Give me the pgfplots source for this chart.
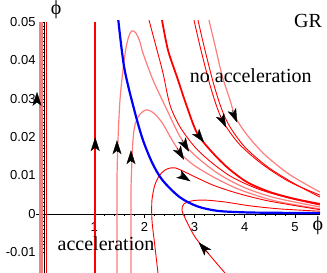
\documentclass[border=0pt]{standalone}
\usepackage{fontspec}
\setmainfont{Liberation Serif}
\newfontfamily\sansf{Liberation Sans}
\usepackage{pgfplots}
\pgfplotsset{compat=1.18}
\usetikzlibrary{arrows.meta}
\definecolor{pinkc}{RGB}{255,125,125}
\definecolor{bandc}{RGB}{242,128,128}
\tikzset{arr/.style={black, line width=0.4pt, -{Stealth[length=14pt,width=9pt,inset=3.5pt]}}}
\begin{document}
\begin{tikzpicture}
\begin{axis}[
  scale only axis, width=284pt, height=251pt,
  xmin=-0.16, xmax=5.5, ymin=-0.0154, ymax=0.05,
  axis x line=middle, axis y line=middle,
  axis line style={black, line width=0.5pt, -},
  clip=false,
  scaled y ticks=false, scaled x ticks=false,
  xtick={1,2,3,4,5}, xticklabels={1,2,3,4,5},
  ytick={-0.01,0,0.01,0.02,0.03,0.04,0.05},
  yticklabels={-0.01,0,0.01,0.02,0.03,0.04,0.05},
  minor x tick num=4, minor y tick num=9,
  hide obscured x ticks=false, hide obscured y ticks=false,
  tick align=outside,
  major tick length=4pt, minor tick length=2.5pt,
  tick style={black, line width=0.5pt},
  /pgf/number format/assume math mode=true,
  xticklabel style={font=\sansf\fontsize{13}{13}\selectfont, yshift=-1pt},
  yticklabel style={font=\sansf\fontsize{13}{13}\selectfont, xshift=-1pt},
]
% left band and vertical lines
\addplot[bandc, line width=4pt] coordinates {(-0.06,-0.0154) (-0.06,0.05)};
\addplot[red, line width=1.5pt] coordinates {(0.045,-0.0154) (0.045,0.05)};
\addplot[red, line width=1.5pt] coordinates {(1.02,-0.0154) (1.02,0.05)};
% pink hump 1
\addplot[pinkc, line width=1.2pt, smooth, tension=0.5] coordinates {
(1.454,-0.0154) (1.454,-0.0016) (1.454,0.0089) (1.474,0.0193) (1.514,0.0297) (1.574,0.0375) (1.633,0.0432) (1.693,0.0464) (1.753,0.0477) (1.833,0.0471) (1.912,0.0448) (1.972,0.0419) (2.171,0.0349) (2.450,0.0271) (2.669,0.0211) (2.849,0.0174) (3.108,0.0141) (3.506,0.0102) (4.004,0.0068) (4.602,0.0042) (5.498,0.0018)};
% pink hump 2
\addplot[pinkc, line width=1.2pt, smooth, tension=0.5] coordinates {
(1.733,-0.0154) (1.733,-0.0016) (1.733,0.0063) (1.753,0.0141) (1.773,0.0193) (1.813,0.0232) (1.912,0.0260) (2.052,0.0271) (2.211,0.0260) (2.371,0.0234) (2.550,0.0193) (2.749,0.0154) (3.008,0.0125) (3.406,0.0094) (3.904,0.0063) (4.602,0.0034) (5.498,0.0013)};
% red hump 3
\addplot[red, line width=0.9pt, smooth, tension=0.5] coordinates {
(2.271,-0.0154) (2.211,-0.0086) (2.151,-0.0016) (2.151,0.0036) (2.211,0.0076) (2.311,0.0102) (2.450,0.0117) (2.610,0.0120) (2.809,0.0109) (3.048,0.0094) (3.406,0.0073) (3.904,0.0052) (4.502,0.0033) (5.498,0.0011)};
% lowest curve
\addplot[red, line width=0.9pt, smooth, tension=0.5] coordinates {
(3.606,-0.0154) (3.247,-0.0099) (3.008,-0.0060) (2.829,-0.0016) (2.749,0.0010) (2.789,0.0026) (2.948,0.0034) (3.207,0.0036) (3.606,0.0031) (4.104,0.0021) (4.701,0.0013) (5.498,0.0007)};
% thin red from top
\addplot[red, line width=0.9pt, smooth, tension=0.5] coordinates {
(2.092,0.0505) (2.251,0.0427) (2.371,0.0367) (2.510,0.0284) (2.709,0.0227) (3.008,0.0174) (3.347,0.0133) (3.745,0.0096) (4.263,0.0065) (4.861,0.0042) (5.498,0.0023)};
% thick red
\addplot[red, line width=1.8pt, smooth, tension=0.5] coordinates {
(2.351,0.0505) (2.470,0.0427) (2.649,0.0357) (2.849,0.0279) (3.048,0.0211) (3.307,0.0167) (3.645,0.0122) (4.044,0.0083) (4.502,0.0057) (5.0,0.0039) (5.498,0.0026)};
% top bundle
\addplot[red, line width=0.9pt, smooth, tension=0.5] coordinates {
(2.988,0.0505) (3.127,0.0427) (3.307,0.0336) (3.466,0.0271) (3.606,0.0232) (3.904,0.0180) (4.363,0.0128) (4.900,0.0083) (5.498,0.0049)};
\addplot[red, line width=0.9pt, smooth, tension=0.5] coordinates {
(3.068,0.0505) (3.207,0.0427) (3.386,0.0336) (3.546,0.0271) (3.705,0.0227) (4.004,0.0174) (4.462,0.0122) (5.0,0.0078) (5.498,0.0044)};
\addplot[pinkc, line width=1.2pt, smooth, tension=0.5] coordinates {
(3.287,0.0505) (3.406,0.0440) (3.546,0.0362) (3.705,0.0297) (3.825,0.0250) (4.044,0.0206) (4.402,0.0154) (4.900,0.0102) (5.498,0.0057)};
% blue
\addplot[blue, line width=2.2pt, smooth, tension=0.5] coordinates {
(1.48,0.0505) (1.6,0.038) (1.8,0.027) (1.97,0.0193) (2.16,0.0132) (2.36,0.0088) (2.7,0.0044) (3.05,0.0020) (3.45,0.0008) (4,0.0004) (4.5,0.0003) (5.5,0.0002)};
% arrows
\addplot[arr] coordinates {(-0.14,0.0290) (-0.14,0.0318)};
\addplot[arr] coordinates {(1.02,0.0170) (1.02,0.0200)};
\addplot[arr] coordinates {(1.454,0.0162) (1.454,0.0192)};
\addplot[arr] coordinates {(1.733,0.0136) (1.733,0.0166)};
\addplot[arr] coordinates {(3.06,0.0208) (3.19,0.0186)};
\addplot[arr] coordinates {(3.506,0.0258) (3.63,0.0225)};
\addplot[arr] coordinates {(3.745,0.0271) (3.85,0.0238)};
\addplot[arr] coordinates {(2.749,0.0193) (2.89,0.0162)};
\addplot[arr] coordinates {(2.649,0.0172) (2.79,0.0141)};
\addplot[arr] coordinates {(2.709,0.0102) (2.92,0.0085)};
\addplot[arr] coordinates {(3.287,-0.0104) (3.08,-0.0074)};
% texts
\node[font=\fontsize{20}{20}\selectfont] at (axis cs:5.26,0.0503) {GR};
\node[font=\fontsize{20}{20}\selectfont] at (axis cs:4.12,0.0359) {no acceleration};
\node[font=\fontsize{20}{20}\selectfont] at (axis cs:1.235,-0.0078) {acceleration};
\node[font=\fontsize{20}{20}\selectfont] at (axis cs:5.46,-0.0032) {ϕ};
\node[font=\fontsize{20}{20}\selectfont] at (axis cs:0.24,0.0531) {ϕ};
\coordinate (ll) at (rel axis cs:0,0);
\coordinate (ur) at (rel axis cs:1,1);
\end{axis}
\pgfresetboundingbox
\path ([xshift=-36pt]ll) rectangle ([xshift=7pt,yshift=22pt]ur);
\end{tikzpicture}
\end{document}
